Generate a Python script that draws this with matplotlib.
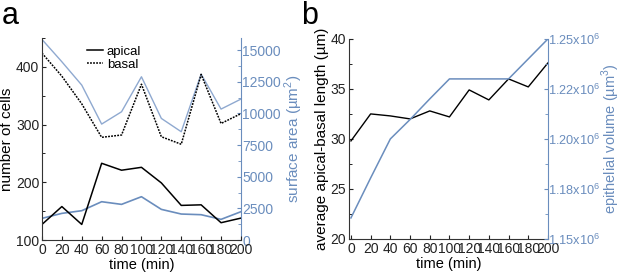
import matplotlib
matplotlib.use("Agg")
import matplotlib.pyplot as plt
from matplotlib.ticker import AutoMinorLocator

plt.rcParams["font.family"] = ["Liberation Sans", "DejaVu Sans"]
plt.rcParams["mathtext.fontset"] = "custom"
plt.rcParams["mathtext.rm"] = "Liberation Sans"

BLUE = "#6a8dbd"

time = [0, 20, 40, 60, 80, 100, 120, 140, 160, 180, 200]

# panel a
apical_cells = [127, 158, 127, 233, 221, 226, 199, 160, 161, 130, 138]
basal_cells = [424, 384, 336, 278, 282, 370, 279, 266, 387, 302, 319]
basal_area = [15845, 14080, 12237, 9158, 10130, 12895, 9605, 8553, 13105, 10342, 11131]
apical_area = [1710, 2105, 2316, 3026, 2816, 3421, 2421, 2053, 2000, 1632, 2237]

# panel b
ab_length = [29.8, 32.5, 32.3, 32.0, 32.8, 32.2, 34.9, 33.9, 36.0, 35.2, 37.6]
epi_volume = [1.1605e6, 1.1805e6, 1.20e6, 1.2097e6, 1.22e6, 1.23e6, 1.23e6, 1.23e6, 1.23e6, 1.24e6, 1.25e6]
vol_ticks = [1.15e6, 1.175e6, 1.20e6, 1.225e6, 1.25e6]
vol_labels = ["1.15x10$^6$", "1.18x10$^6$", "1.20x10$^6$", "1.22x10$^6$", "1.25x10$^6$"]

fig = plt.figure(figsize=(6.17, 2.74), dpi=100)


def style(ax, ax2):
    for a in (ax, ax2):
        a.spines["top"].set_visible(False)
    ax.spines["right"].set_visible(False)
    ax2.spines["left"].set_visible(False)
    ax2.spines["bottom"].set_visible(False)
    ax2.spines["right"].set_color(BLUE)
    ax.spines["left"].set_color("#333333")
    ax.spines["bottom"].set_color("#333333")
    ax.tick_params(direction="in", length=3, labelsize=10, pad=2, colors="#222222")
    ax.tick_params(axis="y", which="minor", direction="in", length=2)
    ax.yaxis.set_minor_locator(AutoMinorLocator(2))
    ax2.tick_params(direction="in", length=3, labelsize=10, pad=1, colors=BLUE)
    ax2.tick_params(axis="y", which="minor", direction="in", length=2, colors=BLUE)
    ax2.yaxis.set_minor_locator(AutoMinorLocator(2))
    ax.set_xticks(time)
    ax.set_xlabel("time (min)", fontsize=10.5, labelpad=1)


# ---- a ----
ax = fig.add_axes([0.068, 0.124, 0.3225, 0.737])
ax2 = ax.twinx()
ax.plot(time, apical_cells, color="black", lw=1.1, label="apical")
ax.plot(time, basal_cells, color="black", lw=1.1, ls=(0, (1.2, 0.8)), label="basal")
ax2.plot(time, basal_area, color="#8fa9d0", lw=1.0)
ax2.plot(time, apical_area, color=BLUE, lw=1.2)
ax.set_xlim(0, 200)
ax.set_ylim(100, 450)
ax.set_yticks([100, 200, 300, 400])
ax2.set_ylim(0, 15950)
ax2.set_yticks([0, 2500, 5000, 7500, 10000, 12500, 15000])
ax.set_ylabel("number of cells", fontsize=11, labelpad=1)
ax2.set_ylabel("surface area (µm$^2$)", fontsize=11, color=BLUE, labelpad=1)
style(ax, ax2)
ax.set_zorder(ax2.get_zorder() + 1)
ax.patch.set_visible(False)
ax.legend(loc="upper left", bbox_to_anchor=(0.2, 0.99), frameon=False, fontsize=9.5,
          handlelength=1.2, handletextpad=0.3, labelspacing=0.05, borderaxespad=0)
fig.text(0.003, 0.997, "a", fontsize=22, va="top", ha="left")

# ---- b ----
bx = fig.add_axes([0.5656, 0.128, 0.3225, 0.73])
bx2 = bx.twinx()
bx.plot(time, ab_length, color="black", lw=1.0)
bx2.plot(time, epi_volume, color=BLUE, lw=1.1)
bx.set_xlim(-2, 200)
bx.set_ylim(20, 40)
bx.set_yticks([20, 25, 30, 35, 40])
bx2.set_ylim(1.15e6, 1.25e6)
bx2.set_yticks(vol_ticks)
bx2.set_yticklabels(vol_labels)
bx.set_ylabel("average apical-basal length (µm)", fontsize=11, labelpad=1)
bx2.set_ylabel("epithelial volume (µm$^3$)", fontsize=10.5, color=BLUE, labelpad=0)
style(bx, bx2)
bx2.tick_params(axis="y", labelsize=9.2, pad=0)
fig.text(0.488, 0.997, "b", fontsize=22, va="top", ha="left")

fig.savefig("out.png", dpi=100)
